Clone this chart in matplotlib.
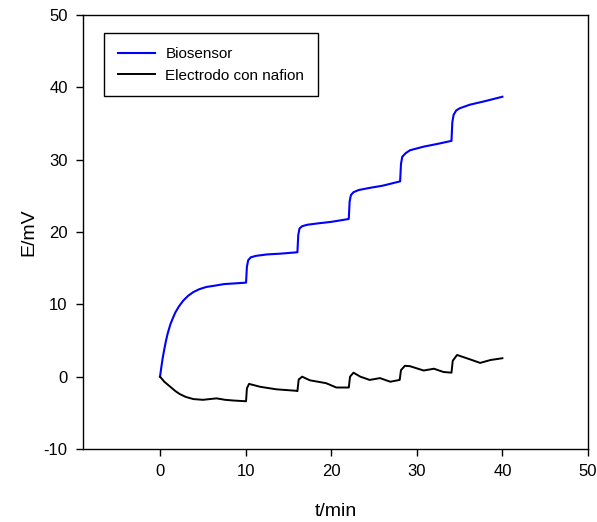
import matplotlib.pyplot as plt

plt.rcParams['font.family'] = ['Liberation Sans', 'DejaVu Sans']
plt.rcParams['axes.unicode_minus'] = False

# Biosensor response (t in min, E in mV)
t_bio = [0, 0.15, 0.3, 0.5, 0.7, 0.9, 1.2, 1.5, 1.8, 2.2, 2.7, 3.3, 3.9, 4.6, 5.4, 6.5, 7.5, 8.8, 10.05,
         10.15, 10.3, 10.6, 11.2, 12.5, 14.0, 16.05,
         16.15, 16.3, 16.6, 17.2, 18.5, 20.0, 22.05,
         22.15, 22.3, 22.6, 23.2, 24.5, 26.0, 28.05,
         28.15, 28.3, 28.7, 29.2, 30.8, 32.5, 34.05,
         34.15, 34.3, 34.6, 35.0, 36.2, 38.0, 40.0]
e_bio = [0, 1.3, 2.5, 3.8, 5.0, 6.0, 7.2, 8.1, 8.9, 9.7, 10.5, 11.2, 11.7, 12.1, 12.4, 12.6, 12.8, 12.9, 13.0,
         15.2, 16.1, 16.5, 16.7, 16.9, 17.0, 17.2,
         19.6, 20.5, 20.8, 21.0, 21.2, 21.4, 21.8,
         24.2, 25.1, 25.5, 25.8, 26.1, 26.4, 27.0,
         29.4, 30.4, 30.9, 31.3, 31.8, 32.2, 32.6,
         35.2, 36.2, 36.8, 37.1, 37.6, 38.1, 38.7]

# Electrode with nafion
t_naf = [0, 0.5, 1.2, 1.8, 2.3, 3.0, 3.9, 5.0, 6.6, 7.6, 8.6, 10.05,
         10.15, 10.4, 11.7, 13.6, 15.9, 16.05,
         16.2, 16.6, 17.5, 19.4, 20.6, 22.05,
         22.2, 22.6, 23.4, 24.5, 25.7, 26.9, 28.0,
         28.15, 28.6, 29.2, 30.8, 32.0, 33.1, 34.05,
         34.2, 34.7, 36.2, 37.4, 38.6, 40.0]
e_naf = [0, -0.7, -1.4, -2.0, -2.4, -2.8, -3.1, -3.2, -3.0, -3.2, -3.3, -3.4,
         -1.6, -1.0, -1.4, -1.75, -1.95, -2.0,
         -0.4, 0.0, -0.5, -0.9, -1.5, -1.5,
         0.0, 0.55, 0.0, -0.45, -0.2, -0.7, -0.45,
         0.9, 1.5, 1.45, 0.85, 1.1, 0.65, 0.55,
         2.2, 3.0, 2.4, 1.9, 2.3, 2.55]

fig = plt.figure(figsize=(5.97, 5.22), dpi=100)
ax = fig.add_axes([83 / 597, 73 / 522, 505 / 597, 434 / 522])

ax.plot(t_bio, e_bio, color='#0000ff', lw=1.5, label='Biosensor')
ax.plot(t_naf, e_naf, color='black', lw=1.4, label='Electrodo con nafion')

ax.set_xlim(-9, 50)
ax.set_ylim(-10, 50)
ax.set_xticks([0, 10, 20, 30, 40, 50])
ax.set_yticks([-10, 0, 10, 20, 30, 40, 50])
ax.tick_params(direction='out', length=5, width=1, labelsize=12, pad=6,
               top=False, right=False)
for s in ax.spines.values():
    s.set_linewidth(1)

ax.set_xlabel('t/min', fontsize=14)
ax.set_ylabel('E/mV', fontsize=14)
ax.xaxis.set_label_coords(0.5, -0.125)
ax.yaxis.set_label_coords(-0.09, 0.5)

leg = ax.legend(loc='upper left', bbox_to_anchor=(0.042, 0.958), fontsize=11,
                fancybox=False, framealpha=1, edgecolor='black',
                handlelength=2.4, borderpad=0.9, labelspacing=0.5,
                handletextpad=0.7, borderaxespad=0)
leg.get_frame().set_linewidth(1)

plt.savefig('out.png', dpi=100)
